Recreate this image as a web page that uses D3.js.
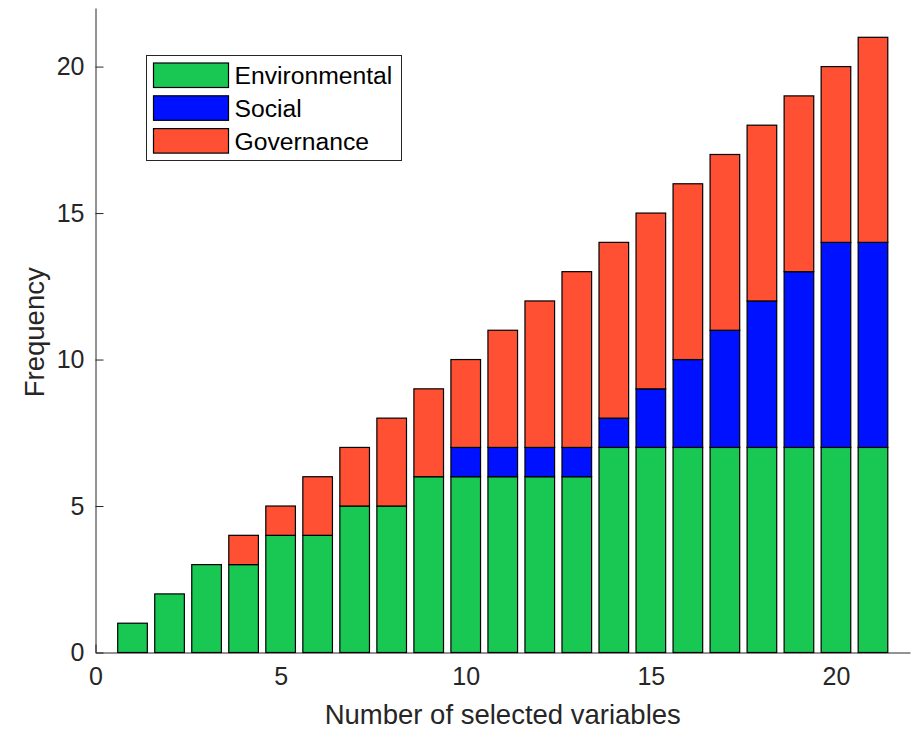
<!DOCTYPE html>
<html>
<head>
<meta charset="utf-8">
<script src="https://cdn.jsdelivr.net/npm/d3@7"></script>
<style>
  body { margin: 0; background: #fff; }
  svg { display: block; font-family: "Liberation Sans", Arial, Helvetica, sans-serif; }
  .axis path, .axis line { stroke: #262626; }
  .axis text { fill: #262626; font-size: 25px; }
</style>
</head>
<body>
<div id="chart"></div>
<script>
// data
var counts = d3.range(1, 22)
var environmental = [1, 2, 3, 3, 4, 4, 5, 5, 6, 6, 6, 6, 6, 7, 7, 7, 7, 7, 7, 7, 7]
var social        = [0, 0, 0, 0, 0, 0, 0, 0, 0, 1, 1, 1, 1, 1, 2, 3, 4, 5, 6, 7, 7]
var governance    = [0, 0, 0, 1, 1, 2, 2, 3, 3, 3, 4, 5, 6, 6, 6, 6, 6, 6, 6, 6, 7]
var seriesNames = ['Environmental', 'Social', 'Governance']
var seriesColors = ['#19c853', '#0011ff', '#ff5033']
var xTicks = [0, 5, 10, 15, 20]
var yTicks = [0, 5, 10, 15, 20]

var width = 913
var height = 729

var rows = counts.map((n, i) => ({
  n: n,
  Environmental: environmental[i],
  Social: social[i],
  Governance: governance[i]
}))

var svg = d3.select('#chart')
  .append('svg')
  .attr('width', width)
  .attr('height', height)

var x = d3.scaleLinear().domain([0, 22]).range([95.5, 910])
var y = d3.scaleLinear().domain([0, 22]).range([652.5, 8])

// axes first, bars draw over the inward ticks
svg.append('g')
  .attr('class', 'axis')
  .attr('transform', 'translate(0,' + y(0) + ')')
  .call(d3.axisBottom(x).tickValues(xTicks).tickSizeInner(-8).tickSizeOuter(0).tickPadding(15))
  .call(g => g.selectAll('text').attr('dy', '0.71em'))

svg.append('g')
  .attr('class', 'axis')
  .attr('transform', 'translate(' + x(0) + ',0)')
  .call(d3.axisLeft(y).tickValues(yTicks).tickSizeInner(-8).tickSizeOuter(0).tickPadding(11))

var stack = d3.stack().keys(seriesNames)
var layers = stack(rows)
var barWidth = 0.8

svg.append('g')
  .selectAll('g')
  .data(layers)
  .enter()
  .append('g')
  .attr('fill', (d, i) => seriesColors[i])
  .selectAll('rect')
  .data(d => d.filter(s => s[1] > s[0]))
  .enter()
  .append('rect')
  .attr('x', d => x(d.data.n - barWidth / 2))
  .attr('width', d => x(barWidth) - x(0))
  .attr('y', d => y(d[1]))
  .attr('height', d => y(d[0]) - y(d[1]))
  .attr('stroke', '#000')
  .attr('stroke-width', 1.2)

// axis labels
svg.append('text')
  .attr('x', (x(0) + x(22)) / 2)
  .attr('y', 724)
  .attr('text-anchor', 'middle')
  .attr('fill', '#262626')
  .style('font-size', '27.5px')
  .text('Number of selected variables')

svg.append('text')
  .attr('transform', 'translate(44,' + (y(11) + 2) + ') rotate(-90)')
  .attr('text-anchor', 'middle')
  .attr('fill', '#262626')
  .style('font-size', '27.5px')
  .text('Frequency')

// legend
var legend = svg.append('g').attr('transform', 'translate(146.5,55.5)')
legend.append('rect')
  .attr('width', 255)
  .attr('height', 105)
  .attr('fill', '#fff')
  .attr('stroke', '#262626')

var item = legend.selectAll('.item')
  .data(seriesNames)
  .enter()
  .append('g')
  .attr('transform', (d, i) => 'translate(0,' + (7.5 + i * 32.8) + ')')

item.append('rect')
  .attr('x', 7)
  .attr('width', 75)
  .attr('height', 24.5)
  .attr('fill', (d, i) => seriesColors[i])
  .attr('stroke', '#000')
  .attr('stroke-width', 1.2)

item.append('text')
  .attr('x', 88)
  .attr('y', 12.5)
  .attr('dy', '0.35em')
  .attr('fill', '#000')
  .style('font-size', '24.7px')
  .text(d => d)
</script>
</body>
</html>
